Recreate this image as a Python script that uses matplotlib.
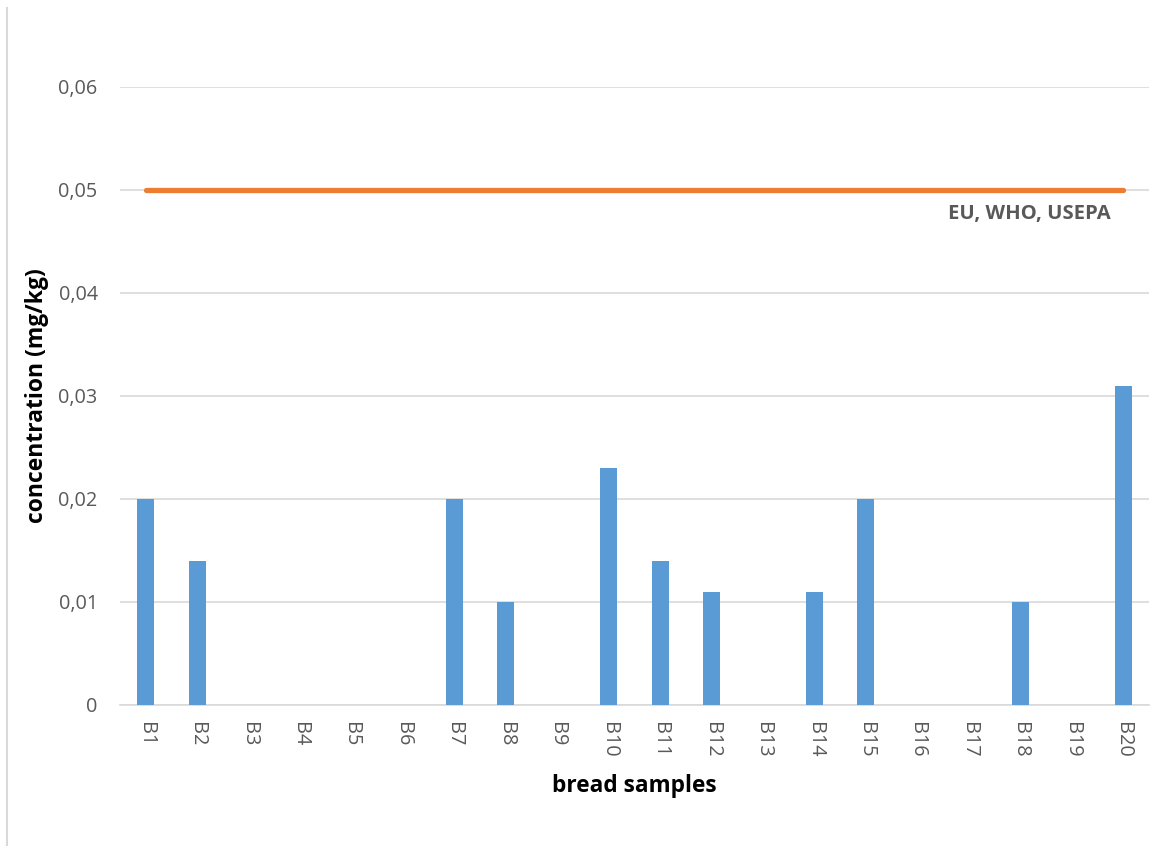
import numpy as np
import matplotlib
matplotlib.use("Agg")
import matplotlib.pyplot as plt
from matplotlib.lines import Line2D

# bread samples and measured concentration (mg/kg); empty = not detected
samples = ["B%d" % i for i in range(1, 21)]
concentration = [0.020, 0.014, 0, 0, 0, 0, 0.020, 0.010, 0, 0.023,
                 0.014, 0.011, 0, 0.011, 0.020, 0, 0, 0.010, 0, 0.031]
limit_value = 0.05
limit_label = "EU, WHO, USEPA"
y_ticks = [0, 0.01, 0.02, 0.03, 0.04, 0.05, 0.06]

plt.rcParams["font.family"] = ["Open Sans", "DejaVu Sans"]
text_grey = "#595959"

fig = plt.figure(figsize=(11.76, 8.46), dpi=100)
ax = fig.add_axes([0.102, 0.1667, 0.875, 0.7305])

x = np.arange(len(samples))
ax.bar(x, concentration, width=0.33, color="#5b9bd5", zorder=3)
ax.plot([x[0], x[-1]], [limit_value, limit_value], color="#ed7d31",
        linewidth=3.8, solid_capstyle="round", zorder=4)
ax.text(x[-1] - 0.25, limit_value - 0.0023, limit_label, ha="right", va="center",
        fontsize=14.6, fontweight="bold", color=text_grey)

ax.set_xlim(-0.5, len(samples) - 0.5)
ax.set_ylim(0, 0.06)
ax.set_yticks(y_ticks)
ax.set_yticklabels(["0" if v == 0 else ("%.2f" % v).replace(".", ",") for v in y_ticks])
ax.set_xticks(x)
ax.set_xticklabels(samples, rotation=-90)

ax.grid(axis="y", color="#d9d9d9", linewidth=1.2, zorder=0)
for side in ["top", "right", "left"]:
    ax.spines[side].set_visible(False)
ax.spines["bottom"].set_color("#d9d9d9")
ax.spines["bottom"].set_linewidth(1.2)
ax.tick_params(axis="both", length=0, labelsize=14.3, colors=text_grey)
ax.tick_params(axis="x", pad=12)
ax.tick_params(axis="y", pad=16)

ax.set_xlabel("bread samples", fontsize=16.3, fontweight="bold", labelpad=12)
ax.set_ylabel("concentration (mg/kg)", fontsize=16.5, fontweight="bold", labelpad=7)

# thin frame line on the left side of the chart area
fig.add_artist(Line2D([0.006, 0.006], [0.0, 0.99], color="#d9d9d9", linewidth=1.5))

fig.savefig("out.png", dpi=100, facecolor="white")
